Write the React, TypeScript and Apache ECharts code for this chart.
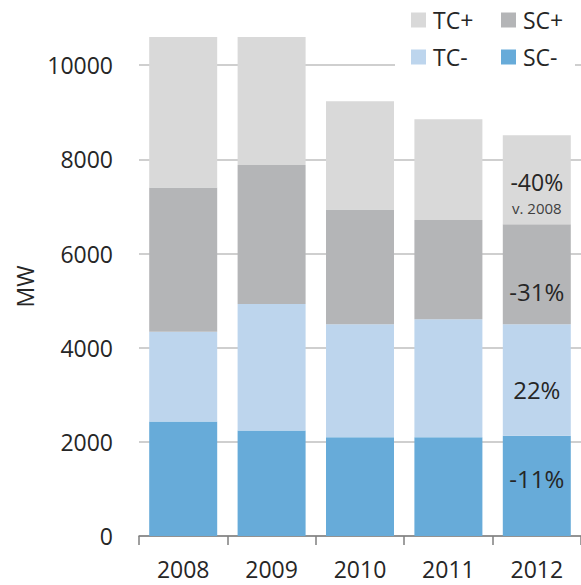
import React, { useEffect, useRef } from "react";
import * as echarts from "echarts";

const categories = ["2008", "2009", "2010", "2011", "2012"];
const scMinus = [2430, 2240, 2100, 2100, 2130];
const tcMinus = [1910, 2690, 2400, 2505, 2370];
const scPlus = [3065, 2950, 2435, 2108, 2125];
const tcPlus = [3195, 2720, 2300, 2138, 1890];
const changeLabels = ["-11%", "22%", "-31%", "-40%"];
const yTicks = [0, 2000, 4000, 6000, 8000, 10000];

const FONT = "'Open Sans', 'Noto Sans', sans-serif";
const TXT = "#262626";

export default function App() {
  const ref = useRef<HTMLDivElement>(null);
  useEffect(() => {
    if (!ref.current) return;
    const chart = echarts.init(ref.current, undefined, { renderer: "svg" });
    const last = categories.length - 1;
    const mk = (
      name: string,
      values: number[],
      color: string,
      lbl: any
    ) => ({
      name,
      type: "bar",
      stack: "total",
      barWidth: 68,
      itemStyle: { color },
      data: values.map((v, i) =>
        i === last ? { value: v, label: { show: true, ...lbl } } : v
      ),
      label: {
        show: false,
        position: "inside",
        fontFamily: FONT,
        fontSize: 24,
        color: TXT,
      },
    });
    const legendItem = (name: string, left: number, top: number) => ({
      data: [name],
      left,
      top,
      padding: 0,
      itemWidth: 15,
      itemHeight: 15,
      icon: "rect",
      selectedMode: false,
      textStyle: {
        fontFamily: FONT,
        fontSize: 23,
        color: TXT,
        lineHeight: 24,
        padding: [0, 0, 0, 2],
      },
    });
    chart.setOption({
      animation: false,
      grid: { left: 139, right: -4, top: 37, bottom: 49, containLabel: false },
      graphic: [
        {
          type: "rect",
          z: 3,
          shape: { x: 395, y: 0, width: 180, height: 76 },
          style: { fill: "#ffffff" },
        },
      ],
      legend: [
        legendItem("TC+", 411, 8),
        legendItem("SC+", 501, 8),
        legendItem("TC-", 411, 45),
        legendItem("SC-", 501, 45),
      ],
      xAxis: {
        type: "category",
        data: categories,
        axisLine: { lineStyle: { color: "#7f7f7f", width: 1.5 } },
        axisTick: { show: true, length: 9, lineStyle: { color: "#7f7f7f", width: 1.5 } },
        axisLabel: { fontFamily: FONT, fontSize: 23, color: TXT, margin: 21 },
      },
      yAxis: {
        type: "value",
        min: 0,
        max: 10600,
        interval: 2000,
        name: "MW",
        nameLocation: "middle",
        nameRotate: 90,
        nameGap: 103,
        nameTextStyle: { fontFamily: FONT, fontSize: 23, color: TXT },
        axisLine: { show: false },
        axisTick: { show: false },
        axisLabel: {
          fontFamily: FONT,
          fontSize: 23,
          color: TXT,
          margin: 26,
          showMaxLabel: false,
          formatter: (v: number) => (yTicks.includes(v) ? String(v) : ""),
        },
        splitLine: {
          show: true,
          showMaxLine: false,
          lineStyle: { color: "#bfbfbf", width: 1.5 },
        },
      },
      series: [
        mk("SC-", scMinus, "#67abd9", { formatter: changeLabels[0], offset: [0, -7] }),
        mk("TC-", tcMinus, "#bdd5ed", { formatter: changeLabels[1], offset: [0, 10] }),
        mk("SC+", scPlus, "#b4b5b7", { formatter: changeLabels[2], offset: [0, 17] }),
        mk("TC+", tcPlus, "#d9d9d9", {
          formatter: "{a|" + changeLabels[3] + "}\n{b|v. 2008}",
          offset: [0, 14],
          rich: {
            a: { fontFamily: FONT, fontSize: 23, color: TXT, lineHeight: 28 },
            b: { fontFamily: FONT, fontSize: 15, color: "#404040", lineHeight: 24 },
          },
        }),
      ],
    });
    return () => chart.dispose();
  }, []);
  return (
    <div
      ref={ref}
      style={{ position: "absolute", left: 0, top: 0, width: 581, height: 585 }}
    />
  );
}
